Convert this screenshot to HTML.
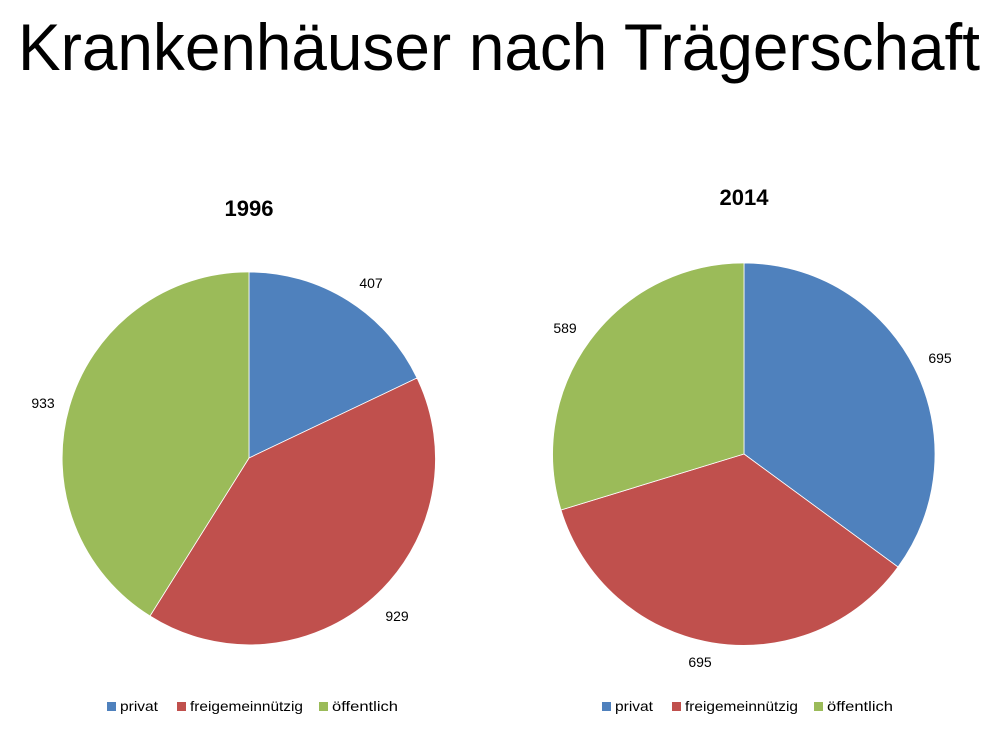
<!DOCTYPE html>
<html><head><meta charset="utf-8"><style>html,body{margin:0;padding:0;background:#fff}</style></head>
<body>
<svg width="1000" height="746" viewBox="0 0 1000 746" xmlns="http://www.w3.org/2000/svg" font-family="Liberation Sans, sans-serif">
<text x="499" y="70" font-size="66" text-anchor="middle" textLength="962" lengthAdjust="spacingAndGlyphs" fill="#000">Krankenhäuser nach Trägerschaft</text>
<text x="249" y="216" font-size="22" font-weight="bold" text-anchor="middle">1996</text>
<text x="744" y="205" font-size="22" font-weight="bold" text-anchor="middle">2014</text>
<g stroke="#fff" stroke-width="0.8">
<path d="M249,458 L249,272 A186,186 0 0 1 417,378 Z" fill="#4F81BD"/>
<path d="M249,458 L417,378 A186,186 0 0 1 150,616 Z" fill="#C0504D"/>
<path d="M249,458 L150,616 A186,186 0 0 1 249,272 Z" fill="#9BBB59"/>
<path d="M744,454 L744,263 A191,191 0 0 1 898,567 Z" fill="#4F81BD"/>
<path d="M744,454 L898,567 A191,191 0 0 1 561,510 Z" fill="#C0504D"/>
<path d="M744,454 L561,510 A191,191 0 0 1 744,263 Z" fill="#9BBB59"/>
</g>
<g font-size="14" fill="#000" text-anchor="middle">
<text x="371" y="288">407</text>
<text x="43" y="408">933</text>
<text x="397" y="621">929</text>
<text x="940" y="363">695</text>
<text x="700" y="667">695</text>
<text x="565" y="333">589</text>
</g>
<g font-size="14" fill="#000">
<rect x="107" y="702" width="9" height="9" fill="#4F81BD"/><text x="120" y="711" textLength="38" lengthAdjust="spacingAndGlyphs">privat</text>
<rect x="177" y="702" width="9" height="9" fill="#C0504D"/><text x="190" y="711" textLength="113" lengthAdjust="spacingAndGlyphs">freigemeinnützig</text>
<rect x="319" y="702" width="9" height="9" fill="#9BBB59"/><text x="332" y="711" textLength="66" lengthAdjust="spacingAndGlyphs">öffentlich</text>
<rect x="602" y="702" width="9" height="9" fill="#4F81BD"/><text x="615" y="711" textLength="38" lengthAdjust="spacingAndGlyphs">privat</text>
<rect x="672" y="702" width="9" height="9" fill="#C0504D"/><text x="685" y="711" textLength="113" lengthAdjust="spacingAndGlyphs">freigemeinnützig</text>
<rect x="814" y="702" width="9" height="9" fill="#9BBB59"/><text x="827" y="711" textLength="66" lengthAdjust="spacingAndGlyphs">öffentlich</text>
</g>
</svg>
</body></html>
